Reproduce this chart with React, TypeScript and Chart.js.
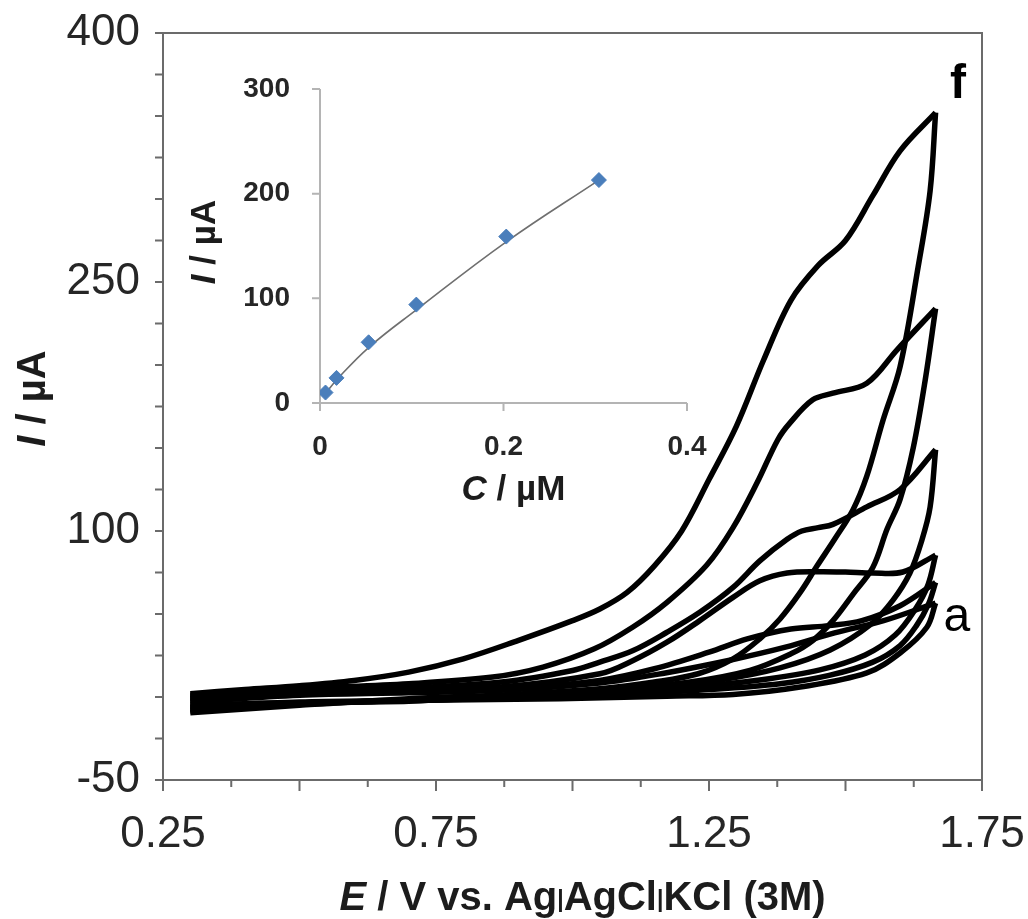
import React, { useEffect, useRef } from 'react';
import { Chart, registerables } from 'chart.js';

Chart.register(...registerables);

const FONT = '"Liberation Sans", Arial, Helvetica, sans-serif';
const AXIS_COLOR = '#6b6b6b';
const TEXT_COLOR = '#1c1c1c';

// ---------- main chart axes ----------
const X_MIN = 0.25;
const X_MAX = 1.75;
const X_STEP = 0.125;
const X_LABELS = [0.25, 0.75, 1.25, 1.75];
const Y_MIN = -50;
const Y_MAX = 400;
const Y_STEP = 25;
const Y_LABELS = [-50, 100, 250, 400];

// ---------- cyclic voltammograms (E / V, I / µA) ----------
// curve a
const A_FWD_E = [0.30, 0.50, 0.70, 0.87, 1.05, 1.17, 1.29, 1.39, 1.48, 1.57, 1.665];
const A_FWD_I = [-3, 1, 2.5, 4, 8.4, 14.5, 22.3, 30, 38.6, 46, 56.6];
const A_REV_E = [1.665, 1.649, 1.60, 1.539, 1.417, 1.294, 1.173, 0.977, 0.734, 0.50, 0.30];
const A_REV_I = [56.6, 42, 26.5, 14.5, 6, 1.5, 0.5, -1, -2, -3.5, -4.5];
// curve b
const B_FWD_E = [0.30, 0.50, 0.70, 0.90, 1.05, 1.15, 1.25, 1.32, 1.40, 1.47, 1.53, 1.60, 1.665];
const B_FWD_I = [-2, 2, 3.5, 5.5, 10, 17, 27, 35, 41, 43, 46, 55, 69];
const B_REV_E = [1.665, 1.652, 1.63, 1.60, 1.55, 1.47, 1.38, 1.25, 1.10, 0.90, 0.70, 0.50, 0.30];
const B_REV_I = [69, 56, 43, 31, 21, 13, 8, 4.5, 2, -0.5, -2, -3, -5.5];
// curve c
const C_FWD_E = [0.30, 0.50, 0.70, 0.867, 1.05, 1.111, 1.173, 1.233, 1.294, 1.343, 1.393, 1.45, 1.50, 1.55, 1.605, 1.665];
const C_FWD_I = [-1, 3, 4.5, 6, 14, 22, 33, 46, 60, 70, 74.7, 75.5, 75.3, 74.7, 75.3, 85.5];
const C_REV_E = [1.665, 1.651, 1.627, 1.591, 1.536, 1.453, 1.343, 1.215, 1.05, 0.867, 0.70, 0.50, 0.30];
const C_REV_I = [85.5, 67.5, 52.4, 37.3, 25.3, 16.3, 10.2, 6, 3, 0, -2.5, -3.5, -6.5];
// curve d
const D_FWD_E = [0.30, 0.50, 0.70, 0.87, 1.00, 1.05, 1.111, 1.173, 1.233, 1.294, 1.343, 1.393, 1.42, 1.45, 1.477, 1.539, 1.60, 1.665];
const D_FWD_I = [0, 3.5, 5.5, 9, 16, 21, 28, 39, 51, 66, 82, 95, 100, 102, 104, 114.5, 125, 149];
const D_REV_E = [1.665, 1.655, 1.64, 1.618, 1.587, 1.545, 1.472, 1.38, 1.27, 1.142, 0.959, 0.776, 0.50, 0.30];
const D_REV_I = [149, 114.5, 94.6, 74.7, 58.4, 43.4, 28.3, 17.5, 10.2, 5.4, 1.8, -1.2, -4, -7.5];
// curve e
const E_FWD_E = [0.30, 0.50, 0.70, 0.854, 0.946, 1.04, 1.11, 1.173, 1.246, 1.294, 1.338, 1.376, 1.398, 1.44, 1.477, 1.539, 1.594, 1.665];
const E_FWD_I = [1, 5, 8, 12, 18, 29, 42, 57, 79.5, 102, 129, 155, 165, 179, 183, 189, 209, 234];
const E_REV_E = [1.665, 1.646, 1.624, 1.60, 1.576, 1.55, 1.514, 1.477, 1.44, 1.40, 1.325, 1.215, 1.05, 0.867, 0.70, 0.50, 0.30];
const E_REV_I = [234, 191, 150, 119, 101, 78, 62, 46, 34, 26, 16, 9, 3.5, 0, -2, -4.5, -8.5];
// curve f
const F_FWD_E = [0.30, 0.40, 0.50, 0.60, 0.70, 0.80, 0.90, 1.00, 1.05, 1.10, 1.15, 1.20, 1.25, 1.30, 1.35, 1.40, 1.45, 1.50, 1.55, 1.60, 1.665];
const F_FWD_I = [2, 4.5, 6.8, 10, 15, 23, 34, 46, 53, 63, 79, 100, 131, 163, 203, 239, 260, 275, 302, 329, 352];
const F_REV_E = [1.665, 1.655, 1.633, 1.60, 1.569, 1.539, 1.514, 1.48, 1.448, 1.417, 1.38, 1.343, 1.294, 1.23, 1.15, 1.05, 0.867, 0.70, 0.50, 0.30];
const F_REV_I = [352, 305, 259, 199, 167, 133, 113, 95, 79, 63, 47, 35, 23, 14, 9, 5, 1.2, -1, -5, -9.5];

// curve tags (text, E, I)
const TAG_TEXT = ['f', 'a'];
const TAG_E = [1.706, 1.704];
const TAG_I = [361, 40];

// ---------- inset calibration ----------
const INSET_C = [0.006, 0.018, 0.053, 0.105, 0.203, 0.304];
const INSET_I = [10, 24, 58, 94, 159, 213];
const TREND_C = [0.006, 0.018, 0.053, 0.105, 0.203, 0.304];
const TREND_I = [9, 22, 53, 89, 154, 213];
const INSET_X_MAX = 0.4;
const INSET_X_STEP = 0.2;
const INSET_Y_MAX = 300;
const INSET_Y_STEP = 100;

type Run = { text: string; font: string; dy?: number };

function drawRuns(ctx: CanvasRenderingContext2D, runs: Run[], x: number, y: number, rotate: boolean) {
  ctx.save();
  ctx.translate(x, y);
  if (rotate) ctx.rotate(-Math.PI / 2);
  ctx.textAlign = 'left';
  ctx.textBaseline = 'alphabetic';
  const widths = runs.map((r) => {
    ctx.font = r.font;
    return ctx.measureText(r.text).width;
  });
  const total = widths.reduce((s, w) => s + w, 0);
  let cx = -total / 2;
  runs.forEach((r, i) => {
    ctx.font = r.font;
    ctx.fillText(r.text, cx, r.dy || 0);
    cx += widths[i];
  });
  ctx.restore();
}

const zip = (xs: number[], ys: number[]) => xs.map((x, i) => ({ x, y: ys[i] }));

const BRANCHES: [number[], number[]][] = [
  [A_FWD_E, A_FWD_I], [A_REV_E, A_REV_I],
  [B_FWD_E, B_FWD_I], [B_REV_E, B_REV_I],
  [C_FWD_E, C_FWD_I], [C_REV_E, C_REV_I],
  [D_FWD_E, D_FWD_I], [D_REV_E, D_REV_I],
  [E_FWD_E, E_FWD_I], [E_REV_E, E_REV_I],
  [F_FWD_E, F_FWD_I], [F_REV_E, F_REV_I],
];

const fitX = (h: number) => (s: any) => {
  s.height = h;
  s.paddingLeft = 0;
  s.paddingRight = 0;
  s.paddingTop = 0;
  s.paddingBottom = 0;
};
const fitY = (w: number) => (s: any) => {
  s.width = w;
  s.paddingLeft = 0;
  s.paddingRight = 0;
  s.paddingTop = 0;
  s.paddingBottom = 0;
};

const mainDecor = {
  id: 'mainDecor',
  afterDraw(chart: any) {
    const { ctx, chartArea: a } = chart;
    const xs = chart.scales.x;
    const ys = chart.scales.y;
    ctx.save();
    ctx.strokeStyle = AXIS_COLOR;
    ctx.lineWidth = 2;
    ctx.strokeRect(a.left, a.top, a.right - a.left, a.bottom - a.top);
    ctx.beginPath();
    xs.ticks.forEach((t: any) => {
      const p = xs.getPixelForValue(t.value);
      const q = t.value / 0.25;
      const major = Math.abs(q - Math.round(q)) < 1e-6;
      ctx.moveTo(p, a.bottom);
      ctx.lineTo(p, a.bottom + (major ? 11 : 7));
    });
    ys.ticks.forEach((t: any) => {
      const p = ys.getPixelForValue(t.value);
      ctx.moveTo(a.left, p);
      ctx.lineTo(a.left - 8, p);
    });
    ctx.stroke();

    ctx.fillStyle = TEXT_COLOR;
    const bold = `bold 40px ${FONT}`;
    const bar = `bold 23px ${FONT}`;
    drawRuns(ctx, [
      { text: 'E', font: `italic bold 40px ${FONT}` },
      { text: ' / V vs. Ag', font: bold },
      { text: '|', font: bar, dy: -3 },
      { text: 'AgCl', font: bold },
      { text: '|', font: bar, dy: -3 },
      { text: 'KCl (3M)', font: bold },
    ], (a.left + a.right) / 2 + 10, a.bottom + 130, false);
    drawRuns(ctx, [
      { text: 'I', font: `italic bold 40px ${FONT}` },
      { text: ' / µA', font: `bold 40px ${FONT}` },
    ], a.left - 118, (a.top + a.bottom) / 2 - 8, true);

    ctx.fillStyle = '#000';
    ctx.textAlign = 'center';
    ctx.textBaseline = 'alphabetic';
    TAG_TEXT.forEach((t, i) => {
      ctx.font = `${t === 'f' ? 'bold ' : ''}48px ${FONT}`;
      ctx.fillText(t, xs.getPixelForValue(TAG_E[i]), ys.getPixelForValue(TAG_I[i]));
    });
    ctx.restore();
  },
};

const insetDecor = {
  id: 'insetDecor',
  beforeDatasetsDraw(chart: any) {
    const { ctx, chartArea: a } = chart;
    const xs = chart.scales.x;
    const ys = chart.scales.y;
    ctx.save();
    ctx.strokeStyle = '#b4b4b4';
    ctx.lineWidth = 2;
    ctx.beginPath();
    ctx.moveTo(a.left, a.top);
    ctx.lineTo(a.left, a.bottom);
    ctx.lineTo(a.right, a.bottom);
    xs.ticks.forEach((t: any) => {
      const p = xs.getPixelForValue(t.value);
      ctx.moveTo(p, a.bottom);
      ctx.lineTo(p, a.bottom + 8);
    });
    ys.ticks.forEach((t: any) => {
      const p = ys.getPixelForValue(t.value);
      ctx.moveTo(a.left, p);
      ctx.lineTo(a.left - 8, p);
    });
    ctx.stroke();
    ctx.restore();
  },
  afterDraw(chart: any) {
    const { ctx, chartArea: a } = chart;
    ctx.save();
    ctx.fillStyle = TEXT_COLOR;
    drawRuns(ctx, [
      { text: 'I', font: `italic bold 35px ${FONT}` },
      { text: ' / µA', font: `bold 35px ${FONT}` },
    ], a.left - 105, (a.top + a.bottom) / 2 - 4, true);
    drawRuns(ctx, [
      { text: 'C', font: `italic bold 35px ${FONT}` },
      { text: ' / µM', font: `bold 35px ${FONT}` },
    ], (a.left + a.right) / 2 + 10, a.bottom + 97, false);
    ctx.restore();
  },
};

export default function App() {
  const mainRef = useRef<HTMLCanvasElement | null>(null);
  const insetRef = useRef<HTMLCanvasElement | null>(null);

  useEffect(() => {
    document.body.style.margin = '0';
    if (!mainRef.current || !insetRef.current) return;

    const main = new Chart(mainRef.current, {
      type: 'line',
      data: {
        datasets: BRANCHES.map(([es, is]) => ({
          data: zip(es, is),
          borderColor: '#000',
          borderWidth: 5.5,
          pointRadius: 0,
          tension: 0.35,
          fill: false,
        })),
      },
      options: {
        animation: false,
        responsive: false,
        maintainAspectRatio: false,
        layout: { padding: { left: 0, right: 46, top: 33, bottom: 0 } },
        plugins: { legend: { display: false }, tooltip: { enabled: false } },
        scales: {
          x: {
            type: 'linear',
            min: X_MIN,
            max: X_MAX,
            afterFit: fitX(139),
            grid: { display: false, drawTicks: false },
            border: { display: false },
            ticks: {
              stepSize: X_STEP,
              autoSkip: false,
              maxRotation: 0,
              padding: 28,
              color: '#262626',
              font: { family: FONT, size: 44 },
              callback: (v: any) => (X_LABELS.some((l) => Math.abs(l - Number(v)) < 1e-6) ? Number(v).toFixed(2) : ''),
            },
          },
          y: {
            type: 'linear',
            min: Y_MIN,
            max: Y_MAX,
            afterFit: fitY(163),
            grid: { display: false, drawTicks: false },
            border: { display: false },
            ticks: {
              stepSize: Y_STEP,
              autoSkip: false,
              padding: 23,
              color: '#262626',
              font: { family: FONT, size: 44 },
              callback: (v: any) => (Y_LABELS.includes(Number(v)) ? String(v) : ''),
            },
          },
        },
      },
      plugins: [mainDecor],
    } as any);

    const inset = new Chart(insetRef.current, {
      type: 'line',
      data: {
        datasets: [
          {
            data: zip(INSET_C, INSET_I),
            showLine: false,
            pointStyle: 'rectRot',
            pointRadius: 7.5,
            pointBackgroundColor: '#4a7ebb',
            pointBorderColor: '#4a7ebb',
            pointBorderWidth: 1,
          },
          {
            data: zip(TREND_C, TREND_I),
            borderColor: '#6f6f6f',
            borderWidth: 1.6,
            pointRadius: 0,
            tension: 0.4,
            fill: false,
          },
        ],
      },
      options: {
        animation: false,
        responsive: false,
        maintainAspectRatio: false,
        layout: { padding: { left: 0, right: 53, top: 29, bottom: 0 } },
        plugins: { legend: { display: false }, tooltip: { enabled: false } },
        scales: {
          x: {
            type: 'linear',
            min: 0,
            max: INSET_X_MAX,
            afterFit: fitX(127),
            grid: { display: false, drawTicks: false },
            border: { display: false },
            ticks: {
              stepSize: INSET_X_STEP,
              maxRotation: 0,
              padding: 27,
              color: '#262626',
              font: { family: FONT, size: 28, weight: 'bold' },
            },
          },
          y: {
            type: 'linear',
            min: 0,
            max: INSET_Y_MAX,
            afterFit: fitY(140),
            grid: { display: false, drawTicks: false },
            border: { display: false },
            ticks: {
              stepSize: INSET_Y_STEP,
              padding: 30,
              color: '#262626',
              font: { family: FONT, size: 28, weight: 'bold' },
            },
          },
        },
      },
      plugins: [insetDecor],
    } as any);

    return () => {
      main.destroy();
      inset.destroy();
    };
  }, []);

  return (
    <div style={{ position: 'relative', width: 1028, height: 919, background: '#fff', overflow: 'hidden' }}>
      <canvas ref={mainRef} width={1028} height={919} style={{ position: 'absolute', left: 0, top: 0 }} />
      <canvas ref={insetRef} width={560} height={470} style={{ position: 'absolute', left: 180, top: 60 }} />
    </div>
  );
}
